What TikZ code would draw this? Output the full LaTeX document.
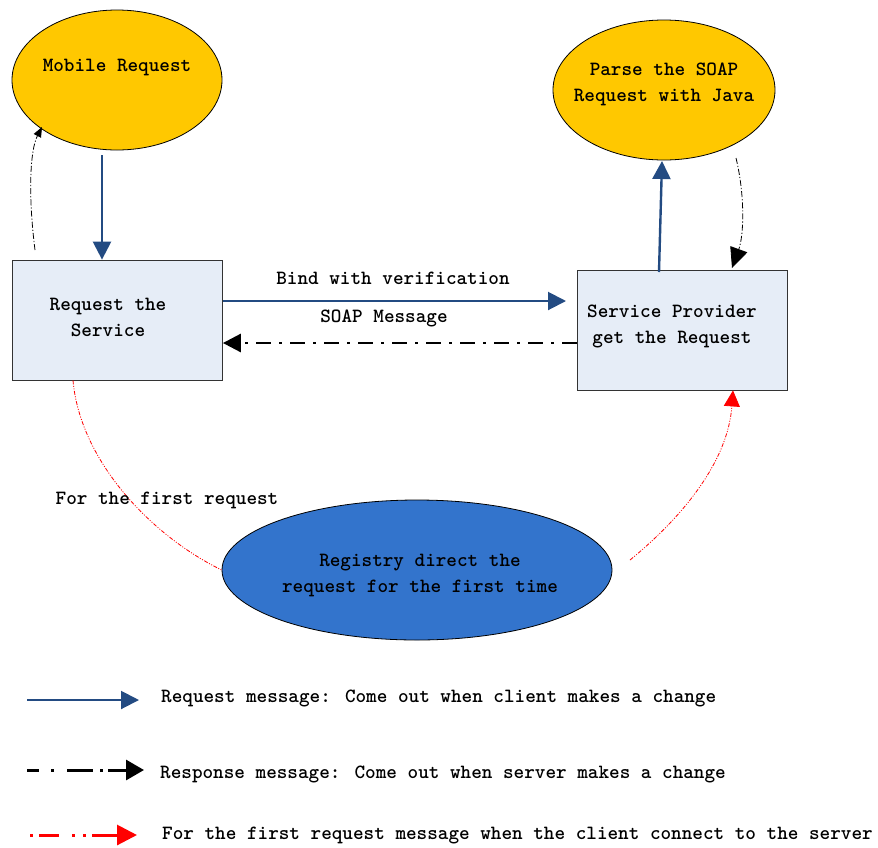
\documentclass[tikz,border=0pt]{standalone}
\usepackage{fontspec}
\usetikzlibrary{arrows.meta,shapes.geometric}

\definecolor{gold}{HTML}{FFC800}
\definecolor{boxfill}{HTML}{E6EDF7}
\definecolor{regblue}{HTML}{3374CC}
\definecolor{reqblue}{HTML}{234B82}
\definecolor{firstred}{HTML}{FF0000}

\begin{document}
\begin{tikzpicture}[x=1pt,y=-1pt,
  every node/.style={font=\fontsize{20.2}{26}\selectfont\ttfamily\bfseries},
  bubble/.style={ellipse, draw=black, line width=0.8pt, inner sep=0pt},
  stepbox/.style={rectangle, draw=black!80, fill=boxfill, line width=0.8pt,
    minimum width=210pt, minimum height=120pt, inner sep=0pt},
  txt/.style={align=center, inner sep=0pt},
  legtxt/.style={anchor=west, inner sep=0pt},
  request/.style={draw=reqblue, line width=2.4pt, -{Triangle[length=18pt,width=18pt]}},
  response/.style={draw=black, line width=0.8pt,
    dash pattern=on 6pt off 2pt on 1.2pt off 2pt},
  soap/.style={draw=black, line width=2.8pt,
    dash pattern=on 15pt off 8pt on 3pt off 8pt, -{Triangle[length=18pt,width=18pt]}},
  first/.style={draw=firstred, line width=0.8pt,
    dash pattern=on 4pt off 1.5pt on 1pt off 1.5pt on 1pt off 1.5pt},
]
\useasboundingbox (0,0) rectangle (878,847);

% shapes
\node[bubble, fill=gold, minimum width=210pt, minimum height=140pt] (mob) at (117,80) {};
\node[txt] (mobtxt) at (117,68) {Mobile Request};

\node[bubble, fill=gold, minimum width=222pt, minimum height=140pt] (parse) at (664,90) {};
\node[txt] (parsetxt) at (664,84) {Parse the SOAP\\Request with Java};

\node[stepbox] (req) at (117.5,320) {};
\node[txt] (reqtxt) at (108,317.5) {Request the\\Service};

\node[stepbox] (prov) at (682,330) {};
\node[txt] (provtxt) at (672,326) {Service Provider\\get the Request};

\node[bubble, fill=regblue, minimum width=390pt, minimum height=140pt] (reg) at (417,570) {};
\node[txt] (regtxt) at (420,575.5) {Registry direct the\\request for the first time};

% request arrows
\coordinate (mobout) at (102,155);
\draw[request] (mobout) -- (req.north -| mobout);
\coordinate (provout) at (659,272);
\draw[request] (provout) -- (662,161);
\draw[request, line width=2pt] (req.east |- 0,301) -- (566,301);
\node[txt] (bindlbl) at (393,278) {Bind with verification};

% response arrows
\draw[soap] (prov.west |- 0,343) -- (req.east |- 0,343);
\node[txt] (soaplbl) at (384,318) {SOAP Message};

\coordinate (reqback) at (35,250);
\draw[response, -{Triangle[length=10pt,width=8pt]}]
  (reqback) .. controls (28,195) and (30,150) .. (42,127);
\coordinate (parseback) at (736,158);
\draw[response, -{Triangle[length=20pt,width=18pt]}]
  (parseback) .. controls (745,195) and (744,235) .. (732,268);

% first-request path
\draw[first] (req.south -| 73,0) .. controls (80,460) and (150,535) .. (reg.west);
\node[txt] (firstlbl) at (167,500) {For the first request};
\coordinate (regback) at (630,560);
\draw[first, -{Triangle[length=16pt,width=16pt]}]
  (regback) .. controls (685,515) and (728,460) .. (prov.south -| 733,0);

% legend
\coordinate (l1a) at (27,700); \coordinate (l1b) at (139,700);
\draw[request, line width=2pt] (l1a) -- (l1b);
\node[legtxt] (l1t) at (161,698) {Request message: Come out when client makes a change};

\coordinate (l2a) at (27,770); \coordinate (l2b) at (144,770);
\draw[draw=black, line width=3pt,
  dash pattern=on 12pt off 12pt on 3pt off 13pt on 26pt off 7pt on 3pt off 5pt on 100pt,
  -{Triangle[length=18pt,width=20pt]}] (l2a) -- (l2b);
\node[legtxt] (l2t) at (160,774) {Response message: Come out when server makes a change};

\coordinate (l3a) at (30,835); \coordinate (l3b) at (137,835);
\draw[draw=firstred, line width=3pt,
  dash pattern=on 3pt off 6pt on 20pt off 13pt on 3pt off 8pt on 3pt off 6pt on 100pt,
  -{Triangle[length=20pt,width=20pt]}] (l3a) -- (l3b);
\node[legtxt] (l3t) at (162,836) {For the first request message when the client connect to the server};
\end{tikzpicture}
\end{document}
